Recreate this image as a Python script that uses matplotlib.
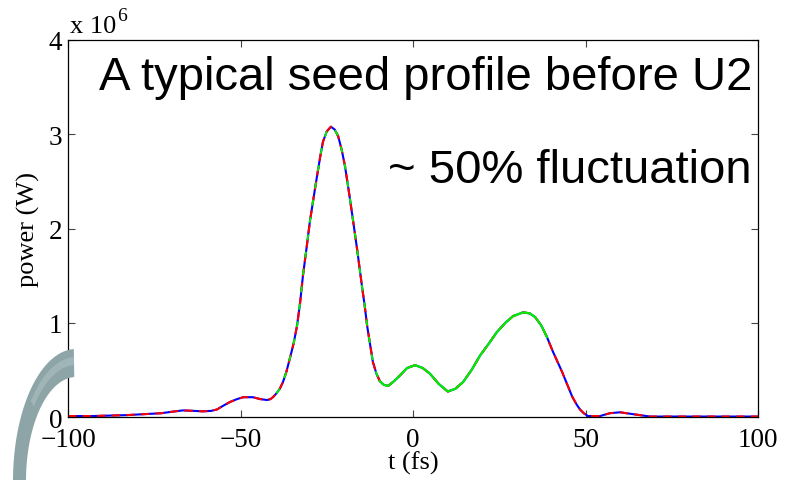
import numpy as np
import matplotlib
matplotlib.use("Agg")
import matplotlib.pyplot as plt
from matplotlib.path import Path
from matplotlib.patches import PathPatch

# time (fs) and power (units of 1e6 W)
t = [-100, -93, -83, -73, -70, -66.7, -63.5, -60.9, -58.5, -56.8, -55, -53,
     -51, -49.2, -46.4, -44.3, -42.3, -41.3, -40.6, -39.6, -38.6, -37.7,
     -36.7, -35.7, -34.6, -33.6, -32.7, -31.9, -30.9, -29.9, -28.8, -27.8,
     -26.9, -26.1, -25, -23.8, -22.7, -21.7, -20.7, -19.7, -18.3, -17.2,
     -16.2, -14.8, -14, -13.3, -12.4, -11.6, -10.6, -9.6, -8.4, -7.2, -5.5,
     -3.8, -1.7, 0.6, 2.8, 4.9, 7.5, 10.1, 12.3, 14.5, 17, 19.4, 22, 24.3,
     26.8, 29, 31.9, 33.8, 35.4, 37.2, 38.8, 40.6, 43.2, 46.1, 47.3, 48.4,
     49.5, 50.7, 54.2, 57, 60, 63.8, 68.7, 81, 100]
power = [0.01, 0.01, 0.02, 0.04, 0.055, 0.07, 0.065, 0.06, 0.065, 0.08, 0.12, 0.16,
         0.19, 0.21, 0.21, 0.19, 0.18, 0.19, 0.21, 0.25, 0.30, 0.37,
         0.48, 0.62, 0.78, 0.97, 1.22, 1.50, 1.78, 2.07, 2.33, 2.56,
         2.76, 2.92, 3.03, 3.08, 3.05, 2.98, 2.84, 2.66, 2.32, 2.04,
         1.78, 1.39, 1.18, 0.97, 0.76, 0.58, 0.46, 0.38, 0.34, 0.33, 0.38,
         0.44, 0.52, 0.55, 0.52, 0.46, 0.35, 0.27, 0.30, 0.37, 0.50, 0.65, 0.78, 0.90,
         1.00, 1.07, 1.11, 1.10, 1.06, 0.97, 0.85, 0.69, 0.48, 0.22, 0.14, 0.08,
         0.04, 0.01, 0.01, 0.04, 0.05, 0.03, 0.005, 0.005, 0.005]

# green trace only covers the middle part (broken up over the main peak)
peak_t, peak_p = t[19:50], power[19:50]
mid_t, mid_p = t[49:73], power[49:73]

title1 = "A typical seed profile before U2"
title2 = "~ 50% fluctuation"

W, H = 797, 481
fig = plt.figure(figsize=(W / 100, H / 100), dpi=100)
ax = fig.add_axes([68 / W, 1 - 418 / H, 690 / W, 377 / H])

ax.plot(t, power, color="blue", lw=1.5)
ax.plot(t, power, color="red", lw=1.5, ls=(0, (4, 3)))
ax.plot(peak_t, peak_p, color="#00ee00", lw=1.4, ls=(0, (3, 6)))
ax.plot(mid_t, mid_p, color="#00ee00", lw=1.6)

ax.set_xlim(-100, 100)
ax.set_ylim(0, 4)
ax.set_xticks([-100, -50, 0, 50, 100])
ax.set_yticks([0, 1, 2, 3, 4])
ax.set_xticklabels(["\u2212100", "\u221250", "0", "50", "100"])

serif = "Liberation Serif"
for lab in ax.get_xticklabels() + ax.get_yticklabels():
    lab.set_fontfamily(serif)
    lab.set_fontsize(19.5)
ax.tick_params(direction="in", length=5, width=0.8, top=True, right=True,
               color="#444444")
ax.tick_params(axis="x", pad=7)
ax.tick_params(axis="y", pad=4)
for s in ax.spines.values():
    s.set_linewidth(0.9)

ax.set_xlabel("t (fs)", fontfamily=serif, fontsize=19)
ax.xaxis.set_label_coords(0.5, -(452 - 418) / 377)
ax.set_ylabel("power (W)", fontfamily=serif, fontsize=19)
ax.yaxis.set_label_coords((40 - 68) / 690, 0.5)

fig.text(70 / W, 1 - 33 / H, "x 10", fontfamily=serif, fontsize=19, va="baseline")
fig.text(117 / W, 1 - 21 / H, "6", fontfamily=serif, fontsize=14, va="baseline")

fig.text(752 / W, 1 - 90 / H, title1, fontfamily="Liberation Sans", fontsize=34,
         ha="right", va="baseline")
fig.text(752 / W, 1 - 183 / H, title2, fontfamily="Liberation Sans", fontsize=34,
         ha="right", va="baseline")

# decorative grey arc at the bottom left
def ring(cx, cy, rx_o, ry_o, rx_i, ry_i, a0, a1):
    a = np.radians(np.linspace(a0, a1, 80))
    xo = cx + rx_o * np.cos(a)
    yo = cy - ry_o * np.sin(a)
    xi = cx + rx_i * np.cos(a[::-1])
    yi = cy - ry_i * np.sin(a[::-1])
    xs = np.concatenate([xo, xi])
    ys = np.concatenate([yo, yi])
    pts = np.column_stack([xs / W, 1 - ys / H])
    return Path(np.vstack([pts, pts[:1]]), closed=True)

fig.add_artist(PathPatch(ring(76, 482, 63, 132, 50, 104, 92, 200),
                         transform=fig.transFigure, facecolor="#8ea5a8",
                         edgecolor="none"))
fig.add_artist(PathPatch(ring(76, 482, 59, 124, 55, 116, 92, 140),
                         transform=fig.transFigure, facecolor="#a0b5b7",
                         edgecolor="none"))

fig.savefig("out.png", dpi=100)
